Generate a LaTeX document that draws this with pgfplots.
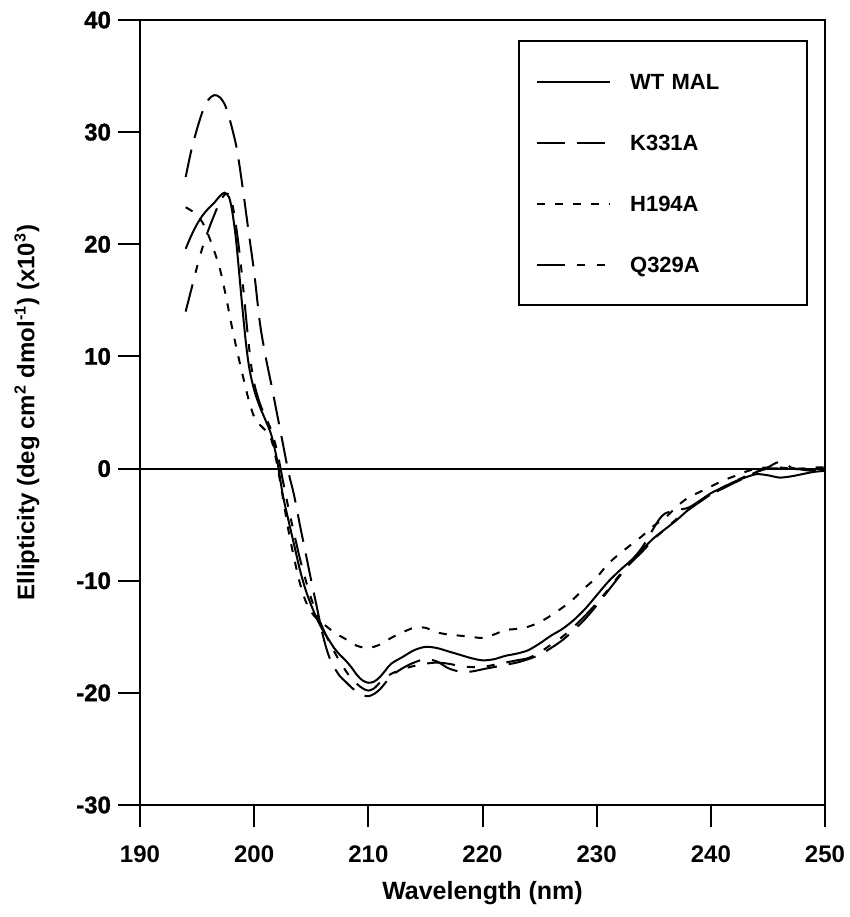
\documentclass[border=0pt]{standalone}
\usepackage{fontspec}
\setmainfont{Liberation Sans}
\newfontfamily\heavyfont[FakeBold=1.2]{Liberation Sans Bold}
\usepackage{pgfplots}
\pgfplotsset{compat=1.18}
\begin{document}
\begin{tikzpicture}
\begin{axis}[
  scale only axis, width=342.5pt, height=392.5pt,
  xmin=190, xmax=250, ymin=-30, ymax=40,
  xtick={190,200,...,250}, ytick={-30,-20,...,40},
  tick align=outside, tick pos=left,
  major tick length=11pt,
  axis line style={line width=1pt},
  every tick/.style={line width=1pt, black},
  /pgf/number format/assume math mode=true,
  xticklabel style={font=\fontsize{12}{14}\selectfont\bfseries, yshift=-6pt},
  yticklabel style={font=\fontsize{12}{14}\selectfont\heavyfont},
  xlabel={Wavelength (nm)},
  ylabel={Ellipticity (deg cm\textsuperscript{2} dmol\textsuperscript{-1}) (x10\textsuperscript{3})},
  xlabel style={font=\fontsize{12.5}{14}\selectfont\bfseries, at={(axis description cs:0.5,-0.1121)}, anchor=center},
  ylabel style={font=\fontsize{12}{14}\selectfont\bfseries, at={(axis description cs:-0.165,0.5)}, anchor=center},
  legend style={at={(rel axis cs:0.552,0.9745)}, anchor=north west, draw=black, line width=1pt, fill=white,
    font=\fontsize{11}{12}\selectfont\bfseries, inner xsep=8.5pt, inner ysep=16.5pt,
    row sep=23pt, column sep=9.5pt,
    nodes={inner sep=0pt, text height=7.5pt, text depth=0pt, text width=80pt, align=left}},
  legend cell align=left,
  legend image code/.code={\draw[#1] (0pt,0pt) -- (36.5pt,0pt);},
  every axis plot/.append style={line width=1pt, black, smooth, tension=0.5},
]
\coordinate (bl) at (rel axis cs:0,0);
\coordinate (tr) at (rel axis cs:1,1);
\addplot[forget plot, sharp plot] coordinates {(190,0) (250,0)};
% WT MAL
\addplot[solid] coordinates {
(194,19.6) (194.5,20.8) (195,21.8) (195.5,22.6) (196,23.2) (196.5,23.7) (197,24.3) (197.4,24.6) (197.8,24.2)
(198.1,22.8) (198.4,20.5) (198.7,17.3) (199,14.0) (199.3,11.0) (199.6,8.8) (200,7.0) (200.5,5.5) (201,4.3)
(201.5,3.0) (202,0.8) (202.5,-2.3) (203,-4.6) (203.5,-6.8) (204,-9.0) (204.5,-10.8) (205,-12.2) (205.5,-13.4)
(206,-14.4) (206.5,-15.2) (207,-16.0) (207.5,-16.6) (208,-17.1) (208.5,-17.7) (209,-18.4) (209.5,-18.9)
(210,-19.1) (210.5,-19.0) (211,-18.6) (211.5,-18.0) (212,-17.4) (213,-16.8) (214,-16.2) (215,-15.9) (216,-16.0)
(217,-16.3) (218,-16.6) (219,-16.9) (220,-17.1) (221,-17.0) (222,-16.7) (223,-16.5) (224,-16.2) (225,-15.6)
(226,-14.9) (227,-14.3) (228,-13.5) (229,-12.5) (230,-11.3) (231,-10.1) (232,-9.1) (233,-8.2) (234,-7.2)
(235,-6.2) (236,-5.4) (237,-4.6) (238,-3.7) (239,-2.9) (240,-2.2) (241,-1.7) (242,-1.2) (243,-0.8) (244,-0.5)
(245,-0.6) (246,-0.8) (247,-0.7) (248,-0.5) (249,-0.3) (250,-0.2)};
\addlegendentry{WT MAL}
% K331A
\addplot[dash pattern=on 14pt off 6pt] coordinates {
(194,26.0) (194.5,28.4) (195,30.3) (195.5,31.9) (196,32.9) (196.5,33.3) (197,33.1) (197.5,32.3) (198,30.6)
(198.5,28.4) (199,25.0) (199.5,21.2) (200,17.5) (200.5,13.0) (201,10.0) (201.5,7.5) (202,4.9) (202.5,2.3)
(203,-0.3) (203.5,-2.4) (204,-5.0) (204.5,-7.5) (205,-10.0) (205.5,-12.4) (206,-14.8) (206.5,-16.6) (207,-17.7)
(207.5,-18.5) (208,-19.0) (208.5,-19.5) (209,-19.9) (209.5,-20.2) (210,-20.3) (210.5,-20.1) (211,-19.7)
(211.5,-19.1) (212,-18.5) (213,-17.8) (214,-17.3) (215,-17.0) (216,-17.2) (217,-17.8) (218,-18.1) (219,-18.1)
(220,-17.9) (221,-17.7) (222,-17.5) (223,-17.3) (224,-17.0) (225,-16.6) (226,-16.0) (227,-15.3) (228,-14.4)
(229,-13.4) (230,-12.2) (231,-10.9) (232,-9.6) (233,-8.3) (234,-7.0) (235,-5.3) (235.5,-4.5) (236,-4.0)
(237,-3.7) (238,-3.5) (239,-2.9) (240,-2.3) (241,-1.8) (242,-1.3) (243,-0.8) (244,-0.3) (245,0.1) (245.5,0.4)
(246,0.6) (246.5,0.5) (247,0.1) (248,-0.1) (249,-0.2) (250,-0.1)};
\addlegendentry{K331A}
% H194A
\addplot[dash pattern=on 4pt off 5pt] coordinates {
(194,23.3) (194.5,23.0) (195,22.6) (195.5,21.9) (196,20.8) (196.5,19.4) (197,17.8) (197.5,15.5) (198,12.9)
(198.5,10.5) (199,8.3) (199.5,6.2) (200,4.6) (200.5,3.9) (201,3.4) (201.5,2.6) (202,0.4) (202.5,-2.5) (203,-5.5)
(203.5,-8.0) (204,-10.2) (204.5,-11.8) (205,-12.8) (205.5,-13.4) (206,-13.8) (207,-14.6) (208,-15.2) (209,-15.8)
(210,-16.0) (211,-15.7) (212,-15.1) (213,-14.6) (214,-14.2) (215,-14.2) (216,-14.6) (217,-14.8) (218,-14.9)
(219,-15.0) (220,-15.1) (221,-14.8) (222,-14.4) (223,-14.3) (224,-14.1) (225,-13.7) (226,-13.1) (227,-12.4)
(228,-11.6) (229,-10.6) (230,-9.7) (231,-8.5) (232,-7.6) (233,-6.8) (234,-6.0) (235,-5.1) (236,-4.4) (237,-3.4)
(238,-2.6) (239,-2.1) (240,-1.6) (241,-1.1) (242,-0.7) (243,-0.3) (244,0.0) (245,0.1) (246,0.1) (247,0.0)
(248,0.0) (249,0.0) (250,0.0)};
\addlegendentry{H194A}
% Q329A
\addplot[dash pattern=on 14pt off 6pt on 4pt off 6pt on 4pt off 6pt] coordinates {
(194,14.0) (194.5,16.0) (195,18.0) (195.5,19.8) (196,21.3) (196.5,22.6) (197,23.8) (197.5,24.5) (197.9,24.3)
(198.2,23.0) (198.5,21.0) (198.8,18.5) (199.1,15.5) (199.4,12.3) (199.7,9.5) (200,7.6) (200.5,5.8) (201,4.6)
(201.5,3.4) (202,1.6) (202.5,-1.0) (203,-3.5) (203.5,-5.8) (204,-8.0) (204.5,-9.9) (205,-11.6) (205.5,-13.0)
(206,-14.2) (206.5,-15.3) (207,-16.3) (207.5,-17.2) (208,-18.0) (208.5,-18.7) (209,-19.2) (209.5,-19.6)
(210,-19.8) (210.5,-19.6) (211,-19.1) (211.5,-18.7) (212,-18.3) (213,-17.9) (214,-17.6) (215,-17.4) (216,-17.3)
(217,-17.4) (218,-17.6) (219,-17.7) (220,-17.7) (221,-17.5) (222,-17.3) (223,-17.1) (224,-16.9) (225,-16.4)
(226,-15.7) (227,-15.0) (228,-14.1) (229,-13.1) (230,-12.0) (231,-10.8) (232,-9.5) (233,-8.4) (234,-7.4)
(235,-6.3) (236,-5.4) (237,-4.5) (238,-3.7) (239,-3.0) (240,-2.3) (241,-1.7) (242,-1.2) (243,-0.7) (244,-0.3)
(245,0.0) (246,0.0) (247,-0.1) (248,0.0) (249,0.1) (250,0.1)};
\addlegendentry{Q329A}
\end{axis}
\pgfresetboundingbox
\path (bl) ++(-70pt,-56pt) rectangle ([xshift=12pt,yshift=10pt]tr);
\end{tikzpicture}
\end{document}
